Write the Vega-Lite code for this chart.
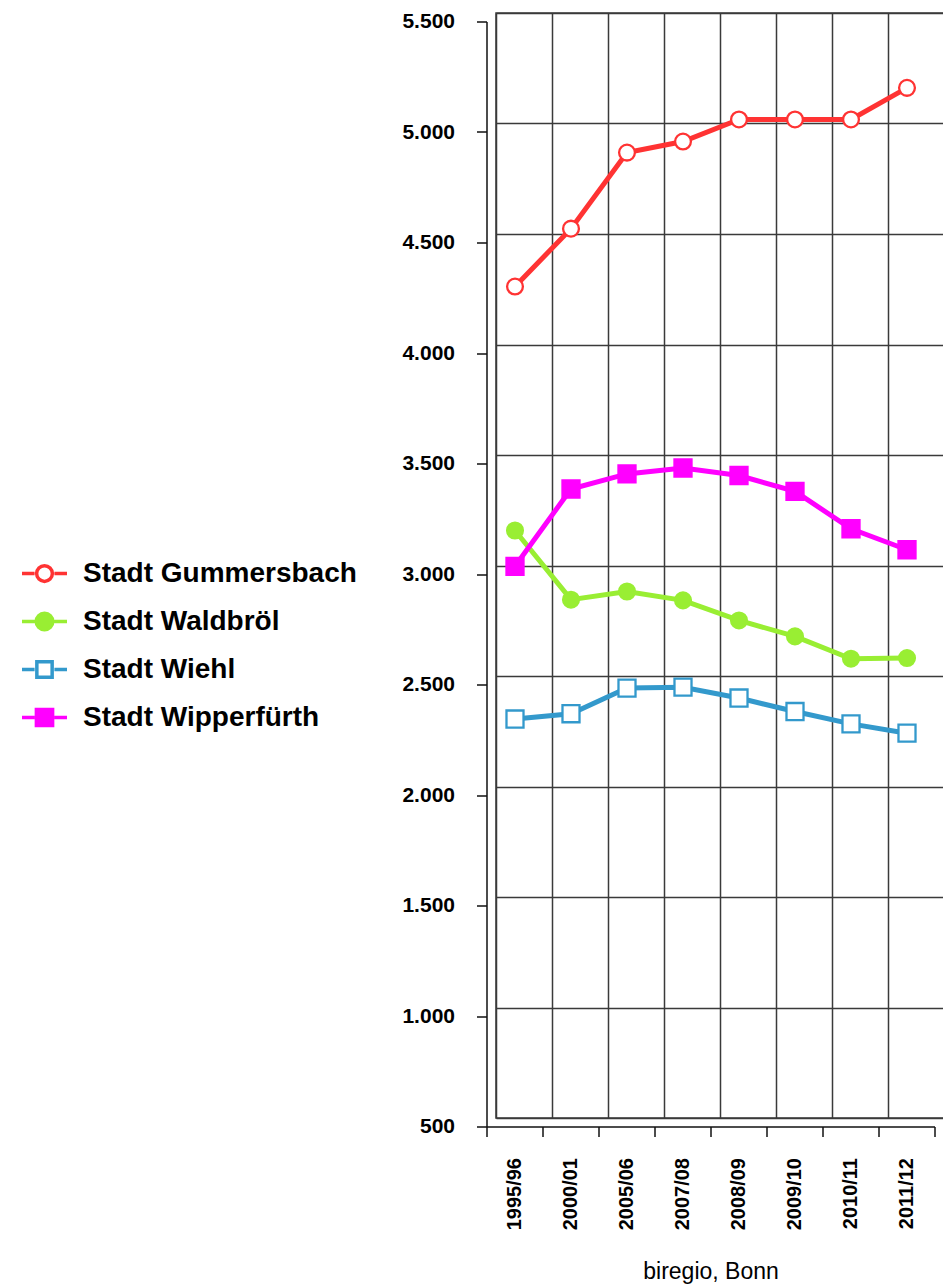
{
  "$schema": "https://vega.github.io/schema/vega-lite/v6.json",
  "autosize": "none",
  "padding": {"left": 496, "top": 13, "right": 0, "bottom": 169},
  "width": 448,
  "height": 1105,
  "background": "white",
  "config": {
    "view": {"stroke": "#3a3a3a", "strokeWidth": 1.5},
    "axis": {"domainColor": "#111", "tickColor": "#111", "domainWidth": 1.5, "tickWidth": 1.5, "gridColor": "#3a3a3a", "gridWidth": 1.5, "gridOpacity": 1, "labelColor": "#000"}
  },
  "datasets": {
    "d": [
      {"year": "1995/96", "city": "Stadt Gummersbach", "value": 4303},
      {"year": "2000/01", "city": "Stadt Gummersbach", "value": 4565},
      {"year": "2005/06", "city": "Stadt Gummersbach", "value": 4909},
      {"year": "2007/08", "city": "Stadt Gummersbach", "value": 4959},
      {"year": "2008/09", "city": "Stadt Gummersbach", "value": 5059},
      {"year": "2009/10", "city": "Stadt Gummersbach", "value": 5059},
      {"year": "2010/11", "city": "Stadt Gummersbach", "value": 5059},
      {"year": "2011/12", "city": "Stadt Gummersbach", "value": 5202},
      {"year": "1995/96", "city": "Stadt Waldbröl", "value": 3199},
      {"year": "2000/01", "city": "Stadt Waldbröl", "value": 2886},
      {"year": "2005/06", "city": "Stadt Waldbröl", "value": 2923},
      {"year": "2007/08", "city": "Stadt Waldbröl", "value": 2883},
      {"year": "2008/09", "city": "Stadt Waldbröl", "value": 2792},
      {"year": "2009/10", "city": "Stadt Waldbröl", "value": 2720},
      {"year": "2010/11", "city": "Stadt Waldbröl", "value": 2619},
      {"year": "2011/12", "city": "Stadt Waldbröl", "value": 2622},
      {"year": "1995/96", "city": "Stadt Wiehl", "value": 2346},
      {"year": "2000/01", "city": "Stadt Wiehl", "value": 2370},
      {"year": "2005/06", "city": "Stadt Wiehl", "value": 2486},
      {"year": "2007/08", "city": "Stadt Wiehl", "value": 2490},
      {"year": "2008/09", "city": "Stadt Wiehl", "value": 2441},
      {"year": "2009/10", "city": "Stadt Wiehl", "value": 2380},
      {"year": "2010/11", "city": "Stadt Wiehl", "value": 2324},
      {"year": "2011/12", "city": "Stadt Wiehl", "value": 2282},
      {"year": "1995/96", "city": "Stadt Wipperfürth", "value": 3037},
      {"year": "2000/01", "city": "Stadt Wipperfürth", "value": 3387},
      {"year": "2005/06", "city": "Stadt Wipperfürth", "value": 3455},
      {"year": "2007/08", "city": "Stadt Wipperfürth", "value": 3482},
      {"year": "2008/09", "city": "Stadt Wipperfürth", "value": 3448},
      {"year": "2009/10", "city": "Stadt Wipperfürth", "value": 3376},
      {"year": "2010/11", "city": "Stadt Wipperfürth", "value": 3207},
      {"year": "2011/12", "city": "Stadt Wipperfürth", "value": 3112}
    ]
  },
  "data": {"name": "d"},
  "resolve": {"axis": {"x": "independent", "y": "independent"}},
  "layer": [
    {
      "mark": {"type": "point", "opacity": 0},
      "encoding": {
        "x": {"field": "year", "type": "ordinal", "sort": null,
              "scale": {"paddingInner": 0, "paddingOuter": 0},
              "axis": {"orient": "bottom", "grid": true, "labels": false, "ticks": false, "domain": false, "title": null, "tickBand": "extent"}},
        "y": {"field": "value", "type": "quantitative",
              "scale": {"domain": [500, 5500], "nice": false, "zero": false},
              "axis": {"orient": "left", "grid": true, "labels": false, "ticks": false, "domain": false, "title": null,
                       "values": [500, 1000, 1500, 2000, 2500, 3000, 3500, 4000, 4500, 5000, 5500]}}
      }
    },
    {
      "mark": {"type": "point", "opacity": 0, "strokeWidth": 3.5},
      "encoding": {
        "stroke": {"field": "city", "type": "nominal",
                   "scale": {"domain": ["Stadt Gummersbach", "Stadt Waldbröl", "Stadt Wiehl", "Stadt Wipperfürth"],
                             "range": ["#ff3333", "#99ee33", "#3399cc", "#ff00ff"]},
                   "legend": {"orient": "none", "legendX": -476, "legendY": 536, "title": null, "padding": 0,
                              "symbolSize": 2025, "symbolStrokeWidth": 3.5, "symbolOpacity": 1, "labelOffset": 14, "rowPadding": 8,
                              "labelFont": "Liberation Sans", "labelFontSize": 28, "labelFontWeight": "bold", "labelColor": "#000", "labelLimit": 0}},
        "fill": {"field": "city", "type": "nominal",
                 "scale": {"domain": ["Stadt Gummersbach", "Stadt Waldbröl", "Stadt Wiehl", "Stadt Wipperfürth"],
                           "range": ["#ffffff", "#99ee33", "#ffffff", "#ff00ff"]},
                 "legend": {"orient": "none", "legendX": -476, "legendY": 536, "title": null, "padding": 0,
                            "symbolSize": 2025, "symbolStrokeWidth": 3.5, "symbolOpacity": 1, "labelOffset": 14, "rowPadding": 8,
                            "labelFont": "Liberation Sans", "labelFontSize": 28, "labelFontWeight": "bold", "labelColor": "#000", "labelLimit": 0}},
        "shape": {"field": "city", "type": "nominal",
                  "scale": {"domain": ["Stadt Gummersbach", "Stadt Waldbröl", "Stadt Wiehl", "Stadt Wipperfürth"],
                            "range": ["M-1,0L-0.44,0M0.44,0L1,0M0.35,0A0.35,0.35,0,1,1,-0.35,0A0.35,0.35,0,1,1,0.35,0Z",
                                      "M-1,0L-0.44,0M0.44,0L1,0M0.37,0A0.37,0.37,0,1,1,-0.37,0A0.37,0.37,0,1,1,0.37,0Z",
                                      "M-1,0L-0.44,0M0.44,0L1,0M-0.34,-0.34L0.34,-0.34L0.34,0.34L-0.34,0.34Z",
                                      "M-1,0L-0.44,0M0.44,0L1,0M-0.36,-0.36L0.36,-0.36L0.36,0.36L-0.36,0.36Z"]},
                  "legend": {"orient": "none", "legendX": -476, "legendY": 536, "title": null, "padding": 0,
                             "symbolSize": 2025, "symbolStrokeWidth": 3.5, "symbolOpacity": 1, "labelOffset": 14, "rowPadding": 8,
                             "labelFont": "Liberation Sans", "labelFontSize": 28, "labelFontWeight": "bold", "labelColor": "#000", "labelLimit": 0}}
      }
    },
    {
      "mark": {"type": "line", "strokeWidth": 5, "xOffset": -9, "yOffset": 9},
      "encoding": {
        "x": {"field": "year", "type": "ordinal", "sort": null,
              "axis": {"orient": "bottom", "grid": false, "offset": 18, "translate": -9, "tickBand": "extent", "tickSize": 10,
                       "labelAngle": -90, "labelPadding": 21, "labelFont": "Liberation Sans", "labelFontSize": 20, "labelFontWeight": "bold",
                       "title": "biregio, Bonn", "titleFont": "Liberation Sans", "titleFontSize": 23, "titleFontWeight": "normal", "titlePadding": 31, "titleColor": "#000"}},
        "y": {"field": "value", "type": "quantitative",
              "axis": {"orient": "left", "grid": false, "offset": 18, "translate": 9, "tickSize": 10, "labelPadding": 22,
                       "values": [500, 1000, 1500, 2000, 2500, 3000, 3500, 4000, 4500, 5000, 5500],
                       "labelExpr": "replace(format(datum.value, ',d'), ',', '.')",
                       "labelFont": "Liberation Sans", "labelFontSize": 21, "labelFontWeight": "bold", "title": null}},
        "stroke": {"field": "city", "type": "nominal", "legend": null}
      }
    },
    {
      "transform": [{"filter": {"field": "city", "oneOf": ["Stadt Gummersbach", "Stadt Waldbröl"]}}],
      "mark": {"type": "point", "shape": "circle", "size": 250, "strokeWidth": 2.3, "opacity": 1, "xOffset": -9, "yOffset": 9},
      "encoding": {
        "x": {"field": "year", "type": "ordinal", "sort": null, "axis": null},
        "y": {"field": "value", "type": "quantitative", "axis": null},
        "stroke": {"field": "city", "type": "nominal", "legend": null},
        "fill": {"field": "city", "type": "nominal", "legend": null}
      }
    },
    {
      "transform": [{"filter": {"field": "city", "oneOf": ["Stadt Wiehl", "Stadt Wipperfürth"]}}],
      "mark": {"type": "point", "shape": "square", "size": 290, "strokeWidth": 2.3, "opacity": 1, "xOffset": -9, "yOffset": 9},
      "encoding": {
        "x": {"field": "year", "type": "ordinal", "sort": null, "axis": null},
        "y": {"field": "value", "type": "quantitative", "axis": null},
        "stroke": {"field": "city", "type": "nominal", "legend": null},
        "fill": {"field": "city", "type": "nominal", "legend": null}
      }
    }
  ]
}
